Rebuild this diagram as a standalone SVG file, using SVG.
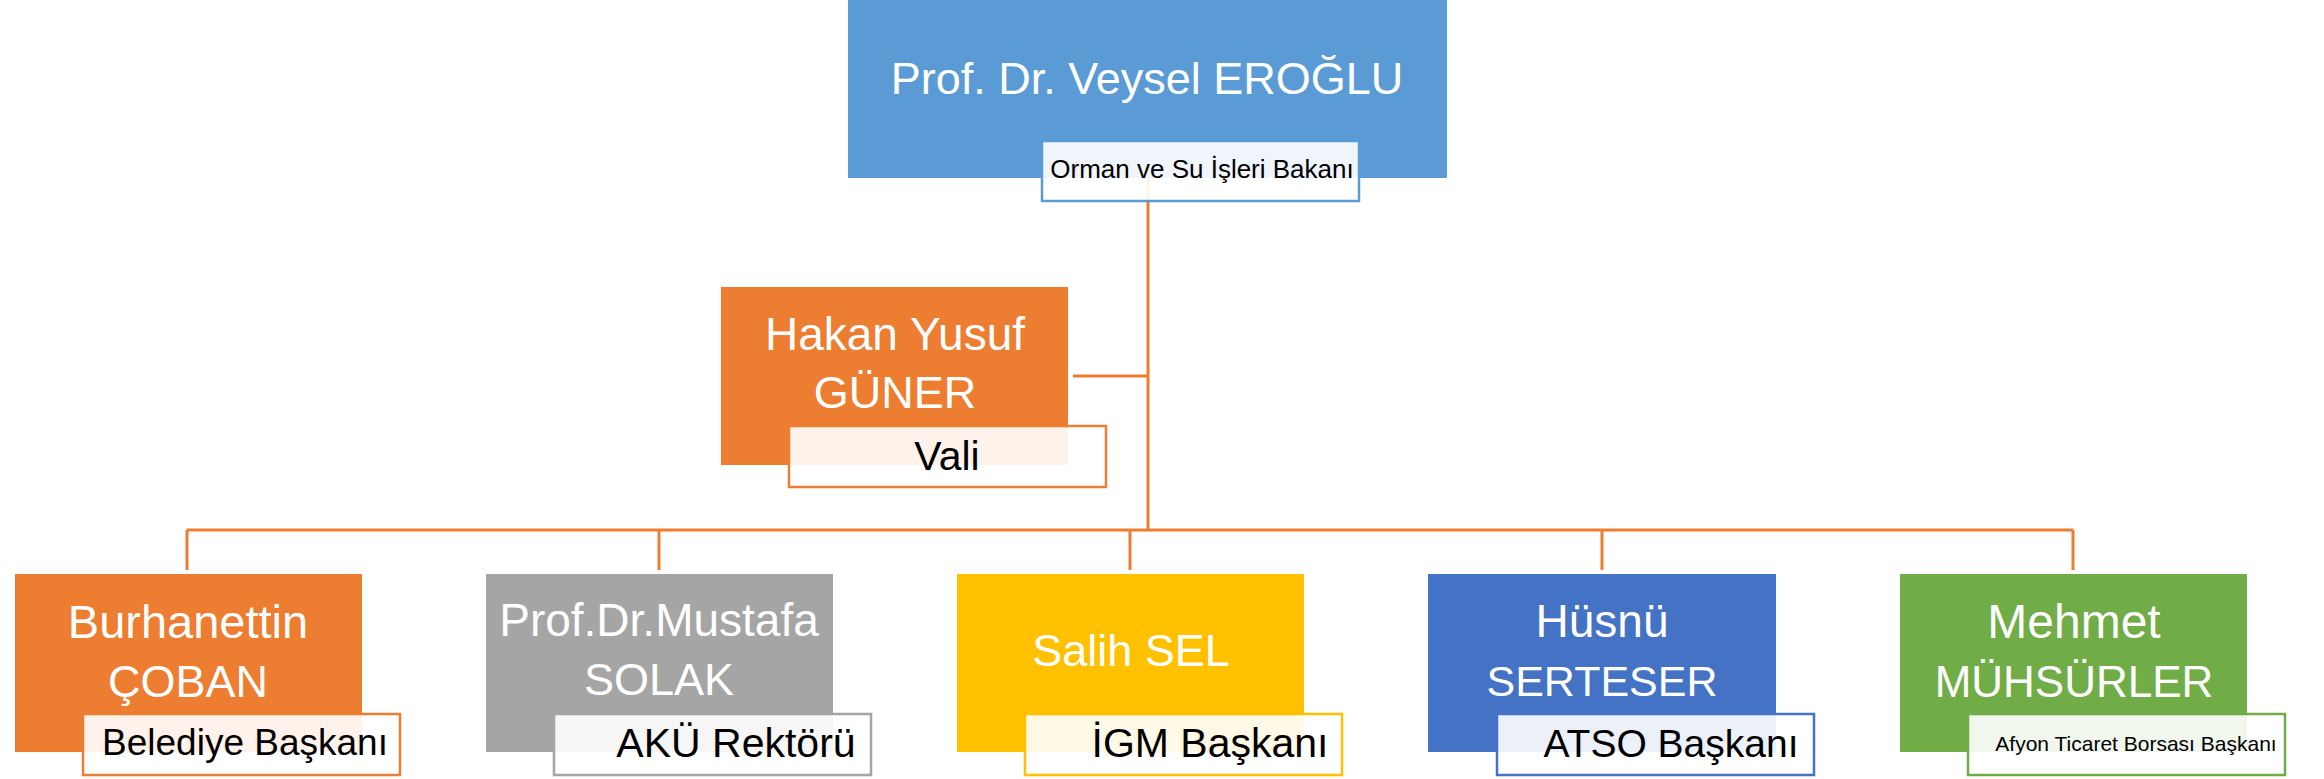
<svg xmlns="http://www.w3.org/2000/svg" width="2324" height="779" viewBox="0 0 2324 779">
<style>
.name{font-family:"Liberation Sans",Arial,sans-serif;fill:#fff;text-anchor:middle}
.lbl{font-family:"Liberation Sans",Arial,sans-serif;fill:#000;text-anchor:middle}
.lblbox{fill:#fff;fill-opacity:0.9;stroke-width:2.5}
.conn{fill:none;stroke:#ED7D31;stroke-width:3}
</style>
<rect width="2324" height="779" fill="#fff"/>
<g id="connectors">
<path class="conn" d="M1148,178 V530"/>
<path class="conn" d="M1073,376 H1148"/>
<path class="conn" d="M187,530 H2073"/>
<path class="conn" d="M187,530 V570"/>
<path class="conn" d="M659,530 V570"/>
<path class="conn" d="M1130,530 V570"/>
<path class="conn" d="M1602,530 V570"/>
<path class="conn" d="M2073,530 V570"/>
</g>
<g id="node-eroglu">
<rect x="848" y="0" width="599" height="178" fill="#5B9BD5"/>
<text class="name" x="1147" y="94" font-size="45">Prof. Dr. Veysel EROĞLU</text>
<rect class="lblbox" x="1042" y="141" width="317" height="60" stroke="#5B9BD5"/>
<text class="lbl" x="1202" y="178" font-size="26">Orman ve Su İşleri Bakanı</text>
</g>
<g id="node-guner">
<rect x="721" y="287" width="347" height="178" fill="#ED7D31"/>
<text class="name" x="895" y="350" font-size="46">Hakan Yusuf</text>
<text class="name" x="895" y="408" font-size="45">GÜNER</text>
<rect class="lblbox" x="789" y="426" width="317" height="61" stroke="#ED7D31"/>
<text class="lbl" x="947" y="470" font-size="41">Vali</text>
</g>
<g id="node-coban">
<rect x="15" y="574" width="347" height="178" fill="#ED7D31"/>
<text class="name" x="188" y="638" font-size="47">Burhanettin</text>
<text class="name" x="188" y="697" font-size="45">ÇOBAN</text>
<rect class="lblbox" x="83" y="714" width="317" height="61" stroke="#ED7D31"/>
<text class="lbl" x="245" y="755" font-size="37">Belediye Başkanı</text>
</g>
<g id="node-solak">
<rect x="486" y="574" width="347" height="178" fill="#A5A5A5"/>
<text class="name" x="659" y="636" font-size="46">Prof.Dr.Mustafa</text>
<text class="name" x="659" y="695" font-size="45">SOLAK</text>
<rect class="lblbox" x="554" y="714" width="317" height="61" stroke="#A5A5A5"/>
<text class="lbl" x="736" y="757" font-size="41">AKÜ Rektörü</text>
</g>
<g id="node-sel">
<rect x="957" y="574" width="347" height="178" fill="#FFC000"/>
<text class="name" x="1131" y="666" font-size="45">Salih SEL</text>
<rect class="lblbox" x="1025" y="714" width="317" height="61" stroke="#FFC000"/>
<text class="lbl" x="1210" y="757" font-size="41">İGM Başkanı</text>
</g>
<g id="node-serteser">
<rect x="1428" y="574" width="348" height="178" fill="#4472C4"/>
<text class="name" x="1602" y="637" font-size="46">Hüsnü</text>
<text class="name" x="1602" y="696" font-size="43">SERTESER</text>
<rect class="lblbox" x="1497" y="714" width="317" height="61" stroke="#4472C4"/>
<text class="lbl" x="1671" y="757" font-size="39">ATSO Başkanı</text>
</g>
<g id="node-muhsurler">
<rect x="1900" y="574" width="347" height="178" fill="#70AD47"/>
<text class="name" x="2074" y="638" font-size="48">Mehmet</text>
<text class="name" x="2074" y="697" font-size="44">MÜHSÜRLER</text>
<rect class="lblbox" x="1968" y="714" width="317" height="61" stroke="#70AD47"/>
<text class="lbl" x="2136" y="751" font-size="21">Afyon Ticaret Borsası Başkanı</text>
</g>
</svg>
